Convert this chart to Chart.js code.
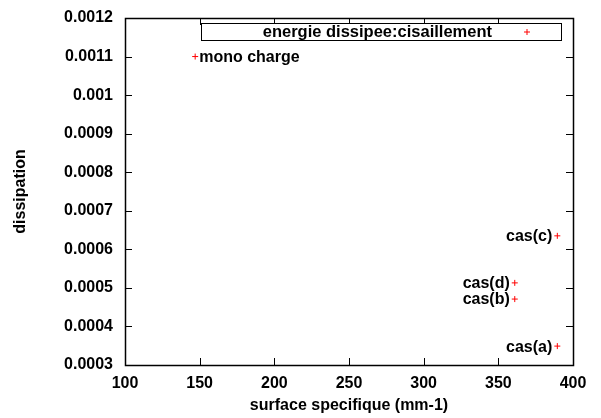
<!DOCTYPE html>
<html>
<head>
<meta charset="utf-8">
<script src="https://cdn.jsdelivr.net/npm/chart.js@4"></script>
<style>
  html, body { margin: 0; padding: 0; background: #fff; }
  #wrap { width: 601px; height: 418px; position: relative; }
</style>
</head>
<body>
<div id="wrap"><canvas id="c" width="601" height="418"></canvas></div>
<script>
(function () {
  'use strict';

  // data
  var LABELS = ['mono charge', 'cas(a)', 'cas(b)', 'cas(c)', 'cas(d)'];
  var SURFACE = [147, 389.5, 361, 389.5, 361];
  var DISSIP = [0.0011, 0.000349, 0.000471, 0.000635, 0.000513];
  var LABEL_SIDE = ['right', 'left', 'left', 'left', 'left'];
  var X_TICKS = [100, 150, 200, 250, 300, 350, 400];
  var Y_TICKS = [0.0003, 0.0004, 0.0005, 0.0006, 0.0007, 0.0008, 0.0009, 0.001, 0.0011, 0.0012];
  var SERIES_NAME = 'energie dissipee:cisaillement';

  var FONT = '"Liberation Sans", Arial, sans-serif';
  var RED = '#ff0000';

  function drawPlus(ctx, x, y, r) {
    ctx.save();
    ctx.strokeStyle = RED;
    ctx.lineWidth = 1;
    ctx.beginPath();
    ctx.moveTo(x - r, y); ctx.lineTo(x + r, y);
    ctx.moveTo(x, y - r); ctx.lineTo(x, y + r);
    ctx.stroke();
    ctx.restore();
  }

  var gnuplotFrame = {
    id: 'gnuplotFrame',
    afterDatasetsDraw: function (chart) {
      var ctx = chart.ctx, a = chart.chartArea;
      var xs = chart.scales.x, ys = chart.scales.y;
      ctx.save();
      ctx.strokeStyle = '#000';
      ctx.lineWidth = 1;
      // inward ticks on all four sides
      ctx.beginPath();
      X_TICKS.forEach(function (v) {
        var px = Math.round(xs.getPixelForValue(v)) + 0.5;
        ctx.moveTo(px, a.bottom); ctx.lineTo(px, a.bottom - 7);
        ctx.moveTo(px, a.top); ctx.lineTo(px, a.top + 7);
      });
      Y_TICKS.forEach(function (v) {
        var py = Math.round(ys.getPixelForValue(v)) + 0.5;
        ctx.moveTo(a.left, py); ctx.lineTo(a.left + 7, py);
        ctx.moveTo(a.right, py); ctx.lineTo(a.right - 7, py);
      });
      ctx.stroke();
      ctx.lineWidth = 1.5;
      ctx.strokeRect(Math.round(a.left) + 0.5, Math.round(a.top) + 0.5,
        Math.round(a.right - a.left), Math.round(a.bottom - a.top));

      // key box
      ctx.fillStyle = '#fff';
      ctx.fillRect(201, 23, 360, 17);
      ctx.lineWidth = 1;
      ctx.strokeRect(201.5, 23.5, 360, 17);
      ctx.fillStyle = '#000';
      ctx.font = 'bold 16.5px ' + FONT;
      ctx.textAlign = 'right';
      ctx.textBaseline = 'middle';
      ctx.fillText(SERIES_NAME, 492, 32);
      drawPlus(ctx, 527, 32, 3);

      // point labels
      ctx.font = 'bold 16px ' + FONT;
      var meta = chart.getDatasetMeta(0);
      meta.data.forEach(function (pt, i) {
        if (LABEL_SIDE[i] === 'right') {
          ctx.textAlign = 'left';
          ctx.fillText(LABELS[i], pt.x + 4, pt.y + 1);
        } else {
          ctx.textAlign = 'right';
          ctx.fillText(LABELS[i], pt.x - 5, pt.y + 1);
        }
      });
      ctx.restore();
    }
  };

  var points = SURFACE.map(function (x, i) { return { x: x, y: DISSIP[i] }; });

  new Chart(document.getElementById('c').getContext('2d'), {
    type: 'scatter',
    data: {
      datasets: [{
        label: SERIES_NAME,
        data: points,
        pointStyle: 'cross',
        pointRadius: 3,
        pointHoverRadius: 3,
        borderColor: RED,
        backgroundColor: RED,
        borderWidth: 1
      }]
    },
    options: {
      responsive: false,
      animation: false,
      layout: { padding: { left: 0, right: 28, top: 18, bottom: 0 } },
      plugins: { legend: { display: false }, tooltip: { enabled: false } },
      scales: {
        x: {
          type: 'linear', min: 100, max: 400,
          afterBuildTicks: function (s) { s.ticks = X_TICKS.map(function (v) { return { value: v }; }); },
          afterFit: function (s) { s.height = 53; s.paddingLeft = 0; s.paddingRight = 0; },
          grid: { display: false, drawTicks: false },
          border: { display: false },
          ticks: { color: '#000', padding: 9, font: { family: FONT, size: 16, weight: 'bold' } },
          title: { display: true, text: 'surface specifique (mm-1)', color: '#000', padding: { top: 0, bottom: 3 },
                   font: { family: FONT, size: 16, weight: 'bold' } }
        },
        y: {
          type: 'linear', min: 0.0003, max: 0.0012,
          afterBuildTicks: function (s) { s.ticks = Y_TICKS.map(function (v) { return { value: v }; }); },
          afterFit: function (s) { s.width = 125; s.paddingTop = 0; s.paddingBottom = 0; },
          grid: { display: false, drawTicks: false },
          border: { display: false },
          ticks: {
            color: '#000', padding: 12, font: { family: FONT, size: 16, weight: 'bold' },
            callback: function (v) { return String(parseFloat(v.toFixed(4))); }
          },
          title: { display: true, text: 'dissipation', color: '#000', padding: { top: 11, bottom: 0 },
                   font: { family: FONT, size: 16, weight: 'bold' } }
        }
      }
    },
    plugins: [gnuplotFrame]
  });
})();
</script>
</body>
</html>
